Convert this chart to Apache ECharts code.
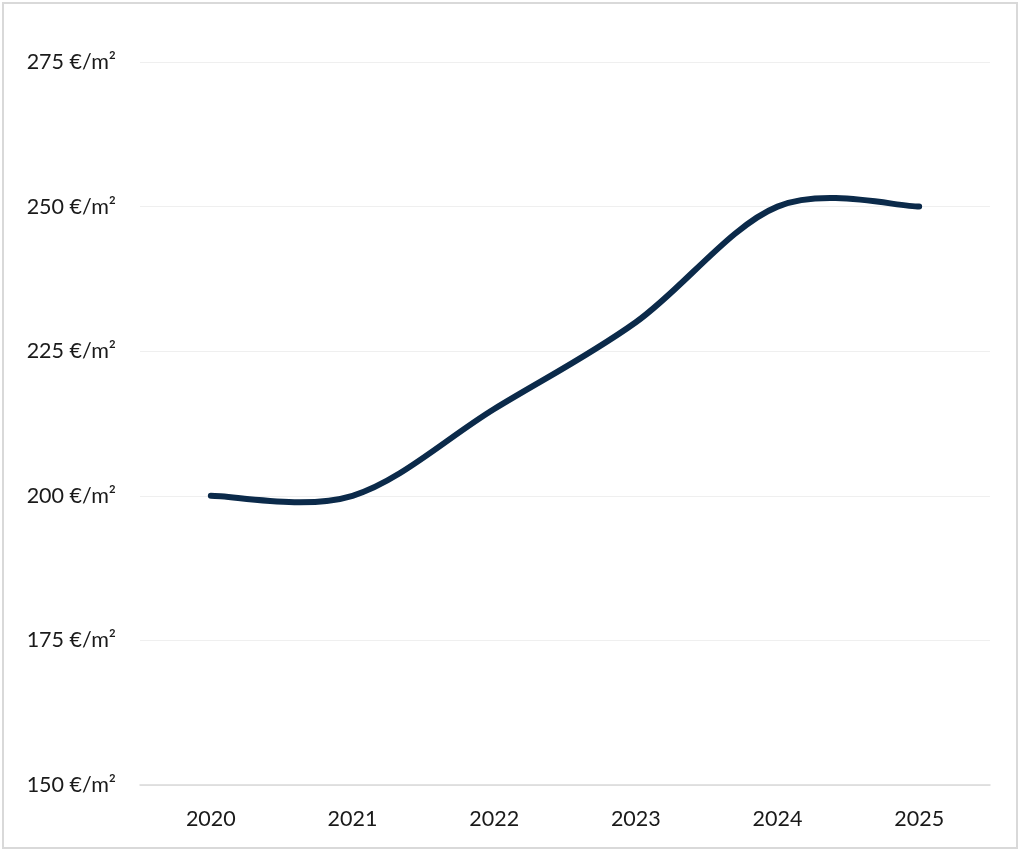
<!DOCTYPE html>
<html>
<head>
<meta charset="utf-8">
<script src="https://cdn.jsdelivr.net/npm/echarts@6/dist/echarts.min.js"></script>
<style>
html,body{margin:0;padding:0;background:#fff;}
#frame{position:absolute;left:2px;top:2px;width:1016px;height:847px;border:2px solid #d9d9d9;box-sizing:border-box;}
#chart{position:absolute;left:0;top:0;width:1024px;height:855px;}
</style>
</head>
<body>
<div id="frame"></div>
<div id="chart"></div>
<script>
const categories = ['2020', '2021', '2022', '2023', '2024', '2025'];
const prices = [200, 200, 215, 230, 250, 250];
const yTicks = [150, 175, 200, 225, 250, 275];

const chart = echarts.init(document.getElementById('chart'), null, {renderer: 'canvas'});

function renderCurve(params, api) {
  if (params.dataIndex !== 0) return null;
  const pts = prices.map((v, i) => api.coord([i, v]));
  const n = pts.length;
  let d = 'M' + pts[0][0] + ' ' + pts[0][1];
  for (let i = 0; i < n - 1; i++) {
    const p0 = pts[Math.max(i - 1, 0)];
    const p1 = pts[i];
    const p2 = pts[i + 1];
    const p3 = pts[Math.min(i + 2, n - 1)];
    const c1x = p1[0] + (p2[0] - p0[0]) / 6;
    const c1y = p1[1] + (p2[1] - p0[1]) / 6;
    const c2x = p2[0] - (p3[0] - p1[0]) / 6;
    const c2y = p2[1] - (p3[1] - p1[1]) / 6;
    d += ' C' + c1x + ' ' + c1y + ' ' + c2x + ' ' + c2y + ' ' + p2[0] + ' ' + p2[1];
  }
  return {
    type: 'path',
    shape: {pathData: d},
    style: {fill: null, stroke: '#0b2a4a', lineWidth: 6, lineCap: 'round', lineJoin: 'round'}
  };
}

chart.setOption({
  animation: false,
  backgroundColor: 'transparent',
  grid: {left: 140, right: 34, top: 62, bottom: 70, containLabel: false},
  xAxis: {
    type: 'category',
    data: categories,
    boundaryGap: true,
    axisLine: {show: true, lineStyle: {color: '#d9d9d9', width: 1.5}},
    axisTick: {show: false},
    axisLabel: {color: '#1a1a1a', fontSize: 21.5, fontFamily: 'Lato', margin: 23}
  },
  yAxis: {
    type: 'value',
    min: yTicks[0],
    max: yTicks[yTicks.length - 1],
    interval: 25,
    axisLine: {show: false},
    axisTick: {show: false},
    splitLine: {lineStyle: {color: '#efefef', width: 1}},
    axisLabel: {
      color: '#1a1a1a', fontSize: 21.5, fontFamily: 'Lato', margin: 24,
      formatter: v => v + ' €/m²'
    }
  },
  series: [{
    type: 'custom',
    coordinateSystem: 'cartesian2d',
    data: prices.map((v, i) => [i, v]),
    encode: {x: 0, y: 1},
    renderItem: renderCurve
  }]
});
</script>
</body>
</html>
